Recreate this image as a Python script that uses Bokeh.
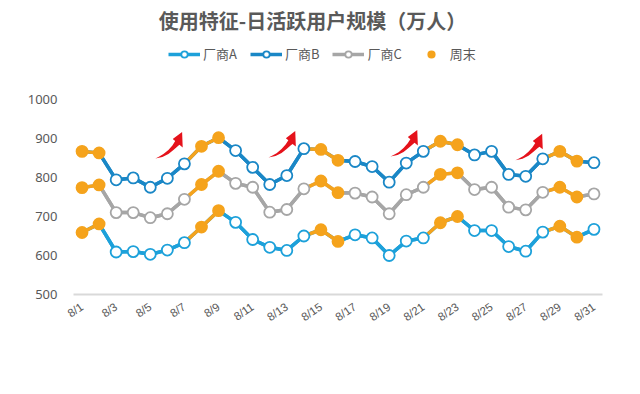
from bokeh.plotting import figure
from bokeh.models import Range1d, FixedTicker, Legend, LegendItem, Label
from bokeh.embed import file_html
from bokeh.resources import INLINE

# ---------------- data ----------------
days = ["8/1", "8/2", "8/3", "8/4", "8/5", "8/6", "8/7", "8/8", "8/9", "8/10",
        "8/11", "8/12", "8/13", "8/14", "8/15", "8/16", "8/17", "8/18", "8/19", "8/20",
        "8/21", "8/22", "8/23", "8/24", "8/25", "8/26", "8/27", "8/28", "8/29", "8/30", "8/31"]
weekend_days = ["8/1", "8/2", "8/8", "8/9", "8/15", "8/16", "8/22", "8/23", "8/29", "8/30"]

vendor_a = [659, 681, 609, 610, 603, 614, 633, 673, 715, 685,
            641, 621, 613, 650, 666, 636, 653, 645, 600, 637,
            645, 684, 700, 664, 664, 623, 611, 660, 675, 647, 667]
vendor_b = [867, 863, 794, 799, 775, 798, 835, 880, 902, 869,
            826, 782, 805, 874, 872, 844, 841, 828, 788, 837,
            867, 893, 884, 858, 867, 808, 803, 848, 867, 842, 838]
vendor_c = [774, 781, 710, 710, 697, 707, 744, 782, 816, 785,
            775, 711, 718, 771, 791, 761, 760, 750, 707, 756,
            775, 808, 812, 769, 775, 724, 717, 762, 775, 750, 758]

series_names = ["厂商A", "厂商B", "厂商C"]
weekend_name = "周末"
y_ticks = [500, 600, 700, 800, 900, 1000]
title_text = "使用特征-日活跃用户规模（万人）"

# arrow annotations (tail position in day index / value)
arrow_tail_x = [4.3, 10.93, 18.08, 25.4]
arrow_tail_y = [849, 851, 854, 844]

# ---------------- style ----------------
COL_A = "#1DA1DA"
COL_B = "#1A87C6"
COL_C = "#A6A6A6"
COL_W = "#F5A31C"
COL_ARROW = "#E5121B"
TXT = "#595959"

LEFT, FRAME_W, RIGHT = 73, 529, 30
FRAME_H = 294            # frame reaches the top of the canvas; value axis bottom at 294px
PX_PER_100 = 39.0        # 100 units of value = 39 px
Y_MIN = 500
Y_MAX = Y_MIN + FRAME_H / PX_PER_100 * 100
H = 378

p = figure(width=LEFT + FRAME_W + RIGHT, height=H, output_backend="svg", toolbar_location=None,
           x_range=Range1d(-0.5, 30.5), y_range=Range1d(Y_MIN, Y_MAX),
           min_border_left=LEFT, min_border_right=RIGHT, min_border_top=0,
           min_border_bottom=H - FRAME_H)
p.outline_line_color = None
p.xgrid.grid_line_color = None
p.ygrid.grid_line_color = None
p.background_fill_color = "white"

xs = list(range(len(days)))
is_weekend = [d in weekend_days for d in days]
wk_idx = [i for i in xs if not is_weekend[i]]
we_idx = [i for i in xs if is_weekend[i]]

line_rs, open_rs, dot_rs = [], [], []
for vals, col in ((vendor_a, COL_A), (vendor_b, COL_B), (vendor_c, COL_C)):
    line_rs.append(p.line(xs, vals, line_color=col, line_width=3.5))
    seg_cols = [COL_W if is_weekend[i + 1] else col for i in range(len(xs) - 1)]
    p.segment(x0=xs[:-1], y0=vals[:-1], x1=xs[1:], y1=vals[1:],
              line_color=seg_cols, line_width=3.5, line_cap="round")

for vals, col in ((vendor_a, COL_A), (vendor_b, COL_B), (vendor_c, COL_C)):
    open_rs.append(p.scatter(x=[xs[i] for i in wk_idx], y=[vals[i] for i in wk_idx], size=11,
                             fill_color="white", line_color=col, line_width=1.8))
    dot_rs.append(p.scatter(x=[xs[i] for i in we_idx], y=[vals[i] for i in we_idx], size=11,
                            fill_color=COL_W, line_color=COL_W, line_width=1.8))

# arrows
ppx = FRAME_W / 31.0
ppy = PX_PER_100 / 100.0
shape = [(0, 0), (7, 1.5), (13, 4.5), (18, 8.5), (22, 12), (24, 13.6), (27.3, 11),
         (26.7, 26.5), (17.3, 19.4), (19.8, 17.3), (17, 13), (13, 8.5), (8, 4.3), (3, 1.5)]
axs, ays = [], []
for tx, ty in zip(arrow_tail_x, arrow_tail_y):
    axs.append([tx + sx / ppx for sx, sy in shape])
    ays.append([ty + sy / ppy for sx, sy in shape])
p.patches(axs, ays, fill_color=COL_ARROW, line_color=None)

def px_to_x(px):
    return (px - LEFT) / ppx - 0.5

def py_to_y(py):
    return Y_MIN + (FRAME_H - py) / ppy

p.add_layout(Label(x=px_to_x(312), y=py_to_y(20), text=title_text,
                   text_align="center", text_baseline="middle",
                   text_font="Noto Sans CJK SC", text_font_size="20px",
                   text_font_style="bold", text_color=TXT))

# axes
p.xaxis.ticker = FixedTicker(ticks=xs[::2])
p.xaxis.major_label_overrides = {i: days[i] for i in xs[::2]}
p.xaxis.major_label_orientation = 0.6
p.xaxis.axis_line_color = "#D9D9D9"
p.xaxis.axis_line_width = 2
p.xaxis.major_tick_line_color = None
p.xaxis.minor_tick_line_color = None
p.xaxis.major_label_text_font = "Liberation Sans"
p.xaxis.major_label_text_font_size = "11.5px"
p.xaxis.major_label_text_color = TXT
p.xaxis.major_label_standoff = 5

p.yaxis.ticker = FixedTicker(ticks=y_ticks)
p.yaxis.axis_line_color = None
p.yaxis.major_tick_line_color = None
p.yaxis.minor_tick_line_color = None
p.yaxis.major_label_text_font = "Noto Sans"
p.yaxis.major_label_text_font_size = "13px"
p.yaxis.major_label_text_color = TXT
p.yaxis.major_label_standoff = 10

# legend
items = [LegendItem(label=name, renderers=[lr, orr])
         for name, lr, orr in zip(series_names, line_rs, open_rs)]
items.append(LegendItem(label=weekend_name, renderers=[dot_rs[0]]))

legend = Legend(items=items, orientation="horizontal", location=(168 - LEFT, FRAME_H - 63),
                glyph_width=32, glyph_height=16, label_standoff=3, spacing=13,
                padding=0, margin=0, border_line_color=None, background_fill_alpha=0,
                label_text_font="Noto Sans CJK SC", label_text_font_size="13px",
                label_text_color=TXT, label_height=16)
p.add_layout(legend)

open("out.html", "w").write(file_html(p, INLINE))
